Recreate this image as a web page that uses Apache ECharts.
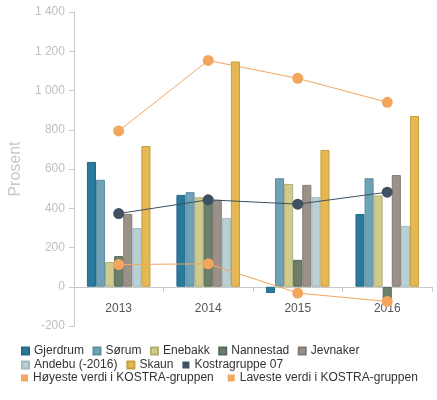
<!DOCTYPE html>
<html>
<head>
<meta charset="utf-8">
<script src="https://cdn.jsdelivr.net/npm/echarts@6/dist/echarts.min.js"></script>
<style>html,body{margin:0;padding:0;background:#fff}#c{width:437px;height:400px}</style>
</head>
<body>
<div id="c"></div>
<script>
var categories = ['2013', '2014', '2015', '2016'];
var gjerdrum = [636, 468, -32, 371];
var sorum = [545, 482, 553, 553];
var enebakk = [126, 456, 524, 465];
var nannestad = [156, 443, 137, -75];
var jevnaker = [371, 443, 519, 569];
var andebu = [299, 350, 456, 310];
var skaun = [717, 1148, 697, 870];
var kostra07 = [373, 443, 421, 482];
var hoyeste = [794, 1153, 1062, 940];
var laveste = [113, 117, -32, -75];
var yTicks = [-200, 0, 200, 400, 600, 800, 1000, 1200, 1400];

var FONT = 'Liberation Sans';
var barNames = ['Gjerdrum', 'Sørum', 'Enebakk', 'Nannestad', 'Jevnaker', 'Andebu (-2016)', 'Skaun'];
var barData = [gjerdrum, sorum, enebakk, nannestad, jevnaker, andebu, skaun];
var barColors = ['#2b7a9c', '#6fa2b7', '#cfcb8e', '#6b7f6b', '#9b9189', '#b9d1d5', '#e4b852'];
var barBorders = ['#24698a', '#5d8ea3', '#b3ae73', '#56695a', '#857b73', '#a2babe', '#c79d3e'];

var series = [];
barNames.forEach(function (n, i) {
  series.push({
    name: n, type: 'bar', data: barData[i],
    barGap: '0%', barCategoryGap: '29%',
    itemStyle: { color: barColors[i], borderColor: barBorders[i], borderWidth: 1 }
  });
});
function lineSeries(name, data, color) {
  return {
    name: name, type: 'line', data: data, symbol: 'circle', symbolSize: 11,
    lineStyle: { color: color, width: 1 }, itemStyle: { color: color }, z: 5
  };
}
series.push(lineSeries('Kostragruppe 07', kostra07, '#3e5061'));
series.push(lineSeries('Høyeste verdi i KOSTRA-gruppen', hoyeste, '#f3a65e'));
series.push(lineSeries('Laveste verdi i KOSTRA-gruppen', laveste, '#f3a65e'));

function legend(top, gap, data) {
  return {
    left: 16, top: top, data: data, icon: 'rect', itemWidth: 7, itemHeight: 7, itemGap: gap,
    textStyle: { fontFamily: FONT, fontSize: 12, color: '#333' },
    selectedMode: false
  };
}

var chart = echarts.init(document.getElementById('c'), null, { renderer: 'canvas' });
chart.setOption({
  animation: false,
  textStyle: { fontFamily: FONT },
  color: barColors.concat(['#3e5061', '#f3a65e', '#f3a65e']),
  grid: { left: 72, right: 5, top: 12, bottom: 74, containLabel: false },
  legend: [
    legend(340, 8.5, ['Gjerdrum', 'Sørum', 'Enebakk', 'Nannestad', 'Jevnaker']),
    legend(354, 9, ['Andebu (-2016)', 'Skaun', 'Kostragruppe 07']),
    legend(367, 14, ['Høyeste verdi i KOSTRA-gruppen', 'Laveste verdi i KOSTRA-gruppen'])
  ],
  xAxis: {
    type: 'category', data: categories, offset: -39,
    axisLine: { onZero: false, lineStyle: { color: '#c8c8c8' } },
    axisTick: { show: true, length: 5, lineStyle: { color: '#c8c8c8' } },
    axisLabel: { color: '#555', fontFamily: FONT, fontSize: 12, margin: 16 }
  },
  yAxis: {
    type: 'value', min: yTicks[0], max: yTicks[yTicks.length - 1], interval: 200,
    name: 'Prosent', nameLocation: 'middle', nameGap: 48,
    nameTextStyle: { color: '#c8c8c8', fontFamily: FONT, fontSize: 16 },
    axisLine: { show: true, lineStyle: { color: '#c8c8c8' } },
    axisTick: { show: true, length: 5, lineStyle: { color: '#c8c8c8' } },
    splitLine: { show: false },
    axisLabel: {
      color: '#c0c0c0', fontFamily: FONT, fontSize: 12, margin: 9,
      formatter: function (v) { return String(v).replace(/\B(?=(\d{3})+(?!\d))/g, ' '); }
    }
  },
  series: series
});
</script>
</body>
</html>
